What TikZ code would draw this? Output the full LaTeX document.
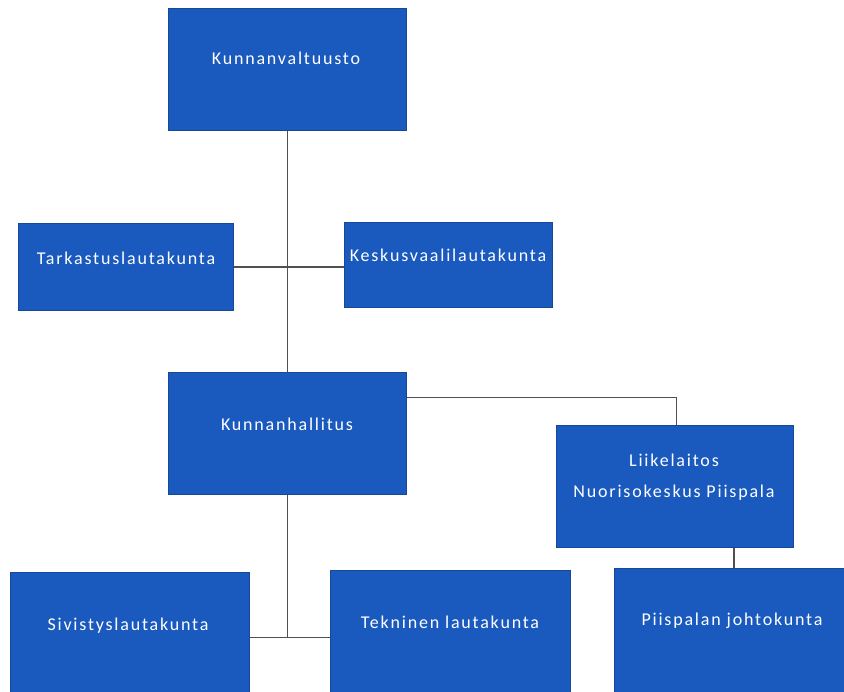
\documentclass[tikz,border=0pt]{standalone}
\usepackage{fontspec}
\setmainfont{Carlito}
\newfontfamily\boxfont[LetterSpace=10]{Carlito}
\definecolor{boxblue}{RGB}{26,90,190}
\definecolor{linegray}{RGB}{80,80,80}
\begin{document}
\begin{tikzpicture}[x=1pt,y=-1pt,
  box/.style={draw=boxblue!80!black, line width=0.8pt, fill=boxblue, anchor=north west, inner sep=0pt},
  lbl/.style={text=white, font=\boxfont\fontsize{18}{21}\selectfont, inner sep=0pt, align=center},
  conn/.style={draw=linegray, line width=1.3pt}]
\useasboundingbox (0,0) rectangle (844,692);
\clip (0,0) rectangle (844,692);
\fill[white] (0,0) rectangle (844,692);
\node[box, minimum width=238pt, minimum height=122pt] (kv) at (168,8) {};
\node[box, minimum width=215pt, minimum height=87pt] (tk) at (18,223) {};
\node[box, minimum width=208pt, minimum height=85pt] (kk) at (344,222) {};
\node[box, minimum width=238pt, minimum height=122pt] (kh) at (168,372) {};
\node[box, minimum width=237pt, minimum height=122pt] (lk) at (556,425) {};
\node[box, minimum width=239pt, minimum height=130pt] (sv) at (10,572) {};
\node[box, minimum width=240pt, minimum height=132pt] (tl) at (330,570) {};
\node[box, minimum width=234pt, minimum height=134pt] (pj) at (614,568) {};
\node[lbl] (kvt) at (286,58) {Kunnanvaltuusto};
\node[lbl] (tkt) at (126,258) {Tarkastuslautakunta};
\node[lbl] (kkt) at (448,255) {Keskusvaalilautakunta};
\node[lbl] (kht) at (287,424) {Kunnanhallitus};
\node[lbl] (lkt1) at (674,460) {Liikelaitos};
\node[lbl] (lkt2) at (674,493) {Nuorisokeskus Piispala};
\node[lbl] (svt) at (128,626) {Sivistyslautakunta};
\node[lbl] (tlt) at (450,622) {Tekninen lautakunta};
\node[lbl] (pjt) at (732,621) {Piispalan johtokunta};
\draw[conn] (kv.south) -- (kh.north);
\draw[conn] (tk.east) -- (tk.east -| kk.west);
\draw[conn] ([yshift=36pt]kh.east) -| ([xshift=1.5pt]lk.north);
\draw[conn] (kh.south) -- (kh.south |- sv.east);
\draw[conn] (sv.east) -- (sv.east -| tl.west);
\draw[conn] ([xshift=59pt]lk.south) -- ([xshift=59pt]lk.south |- pj.north);
\end{tikzpicture}
\end{document}
